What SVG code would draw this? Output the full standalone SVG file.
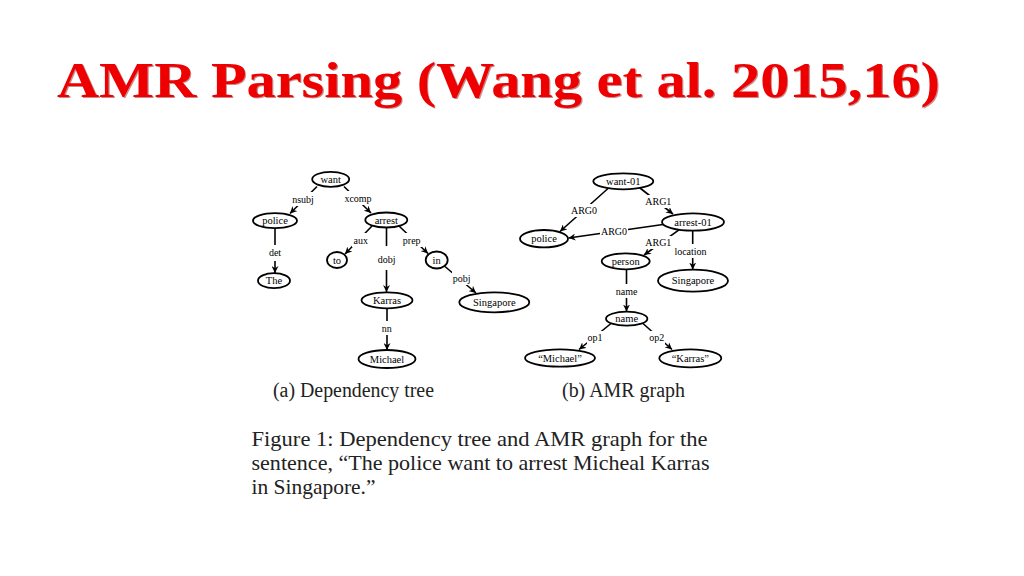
<svg xmlns="http://www.w3.org/2000/svg" width="1024" height="576" viewBox="0 0 1024 576">
<defs>
<style>
.node ellipse{fill:#fff;stroke:#000;stroke-width:1.8}
.node text{font-family:"Liberation Serif",serif;font-size:10.5px;text-anchor:middle;fill:#000}
.edge line{stroke:#000;stroke-width:1.6}
.edge .arr{marker-end:url(#ah)}
.lbl rect{fill:#fff}
.lbl text{font-family:"Liberation Serif",serif;font-size:10px;text-anchor:middle;fill:#000}
.cap{font-family:"Liberation Serif",serif;fill:#222}
.title{font-family:"Liberation Serif",serif;font-weight:bold;font-size:50px}
</style>
<marker id="ah" viewBox="0 0 8 8" refX="8" refY="4" markerWidth="7" markerHeight="7" markerUnits="userSpaceOnUse" orient="auto">
<path d="M0,0 L8,4 L0,8 L2.5,4 z" fill="#000"/>
</marker>
</defs>
<rect width="1024" height="576" fill="#fff"/>

<g id="title">
<text class="title" x="58.2" y="98.2" textLength="883" lengthAdjust="spacingAndGlyphs" fill="#8a0000" opacity="0.45">AMR Parsing (Wang et al. 2015,16)</text>
<text class="title" x="57" y="97" textLength="883" lengthAdjust="spacingAndGlyphs" fill="#ee0000">AMR Parsing (Wang et al. 2015,16)</text>
</g>

<g id="connectors" class="edge">
<!-- dependency tree -->
<line class="arr" x1="317" y1="186.5" x2="290" y2="213.5"/>
<line class="arr" x1="344" y1="186.5" x2="371" y2="213"/>
<line class="arr" x1="275" y1="228.5" x2="275" y2="273"/>
<line class="arr" x1="372" y1="226" x2="345" y2="254"/>
<line class="arr" x1="386.5" y1="227.5" x2="386.5" y2="292"/>
<line class="arr" x1="399" y1="226" x2="428" y2="253.5"/>
<line class="arr" x1="445" y1="266.5" x2="476" y2="293"/>
<line class="arr" x1="387" y1="308.5" x2="387" y2="350"/>
<!-- AMR graph -->
<line class="arr" x1="608" y1="188.5" x2="560" y2="231.5"/>
<line class="arr" x1="640" y1="188" x2="673" y2="214"/>
<line class="arr" x1="663" y1="224.5" x2="568.5" y2="238"/>
<line class="arr" x1="679" y1="229.8" x2="644" y2="255"/>
<line class="arr" x1="692.7" y1="230.7" x2="692.7" y2="269.5"/>
<line class="arr" x1="626.5" y1="269.3" x2="626.5" y2="311.5"/>
<line class="arr" x1="611" y1="323.5" x2="579" y2="349.5"/>
<line class="arr" x1="643" y1="323.5" x2="672" y2="349.5"/>

<g class="lbl">
<rect x="291" y="192" width="24" height="14"/><text x="303" y="202.5">nsubj</text>
<rect x="344" y="191" width="29" height="14"/><text x="358" y="201.5">xcomp</text>
<rect x="268" y="245" width="14" height="16"/><text x="275" y="256">det</text>
<rect x="352" y="233" width="17" height="14"/><text x="360.7" y="243.5">aux</text>
<rect x="377" y="246" width="20" height="24"/><text x="386.7" y="262.5">dobj</text>
<rect x="402" y="233" width="20" height="14"/><text x="411.7" y="243.5">prep</text>
<rect x="452" y="271" width="20" height="14"/><text x="461.7" y="281.5">pobj</text>
<rect x="380" y="321" width="14" height="14"/><text x="386.7" y="331.5">nn</text>

<rect x="570" y="204" width="28" height="13"/><text x="584" y="214.2">ARG0</text>
<rect x="644" y="195" width="28" height="13"/><text x="658.3" y="205.2">ARG1</text>
<rect x="600" y="225" width="28" height="13"/><text x="614" y="235.2">ARG0</text>
<rect x="644" y="236" width="28" height="13"/><text x="658.3" y="246.2">ARG1</text>
<rect x="673" y="244" width="36" height="14"/><text x="690.5" y="254.5">location</text>
<rect x="615" y="284" width="23" height="14"/><text x="626.7" y="294.5">name</text>
<rect x="587" y="331" width="17" height="13"/><text x="595" y="340.8">op1</text>
<rect x="648" y="331" width="17" height="13"/><text x="656.7" y="340.8">op2</text>
</g>
</g>

<g id="n-want" class="node"><ellipse cx="330.7" cy="179.3" rx="18.5" ry="7.5"/><text x="330.7" y="182.8">want</text></g>
<g id="n-police" class="node"><ellipse cx="275" cy="220.7" rx="22" ry="7.5"/><text x="275" y="224.2">police</text></g>
<g id="n-arrest" class="node"><ellipse cx="386.3" cy="220" rx="21" ry="7.5"/><text x="386.3" y="223.5">arrest</text></g>
<g id="n-the" class="node"><ellipse cx="274" cy="280.7" rx="16" ry="7.5"/><text x="274" y="284.2">The</text></g>
<g id="n-to" class="node"><ellipse cx="337" cy="260" rx="10" ry="8"/><text x="337" y="263.5">to</text></g>
<g id="n-in" class="node"><ellipse cx="436.7" cy="260" rx="11" ry="8.5"/><text x="436.7" y="263.5">in</text></g>
<g id="n-karras" class="node"><ellipse cx="387" cy="300.3" rx="25.5" ry="8"/><text x="387" y="303.8">Karras</text></g>
<g id="n-singapore" class="node"><ellipse cx="494.3" cy="302.3" rx="35" ry="10"/><text x="494.3" y="305.8">Singapore</text></g>
<g id="n-michael" class="node"><ellipse cx="387" cy="359" rx="28.5" ry="9"/><text x="387" y="362.5">Michael</text></g>

<g id="a-want01" class="node"><ellipse cx="623.3" cy="181.3" rx="30" ry="8"/><text x="623.3" y="184.8">want-01</text></g>
<g id="a-police" class="node"><ellipse cx="544" cy="238.7" rx="24" ry="8.7"/><text x="544" y="242.2">police</text></g>
<g id="a-arrest01" class="node"><ellipse cx="693" cy="222" rx="31" ry="8.7"/><text x="693" y="225.5">arrest-01</text></g>
<g id="a-person" class="node"><ellipse cx="625.7" cy="261.3" rx="24" ry="8"/><text x="625.7" y="264.8">person</text></g>
<g id="a-singapore" class="node"><ellipse cx="693" cy="280.7" rx="35" ry="11"/><text x="693" y="284.2">Singapore</text></g>
<g id="a-name" class="node"><ellipse cx="626.7" cy="318.7" rx="20.7" ry="7"/><text x="626.7" y="322.2">name</text></g>
<g id="a-michael" class="node"><ellipse cx="560" cy="358" rx="35" ry="8.7"/><text x="560" y="361.5">“Michael”</text></g>
<g id="a-karras" class="node"><ellipse cx="690.3" cy="358.3" rx="31" ry="9"/><text x="690.3" y="361.8">“Karras”</text></g>

<g id="captions">
<text class="cap" x="273" y="397" font-size="20" textLength="161" lengthAdjust="spacingAndGlyphs">(a) Dependency tree</text>
<text class="cap" x="562" y="397" font-size="20" textLength="123" lengthAdjust="spacingAndGlyphs">(b) AMR graph</text>
<text class="cap" x="251.5" y="446" font-size="21" textLength="456" lengthAdjust="spacingAndGlyphs">Figure 1:  Dependency tree and AMR graph for the</text>
<text class="cap" x="251.5" y="470" font-size="21" textLength="458" lengthAdjust="spacingAndGlyphs">sentence, “The police want to arrest Micheal Karras</text>
<text class="cap" x="251.5" y="494" font-size="21" textLength="124" lengthAdjust="spacingAndGlyphs">in Singapore.”</text>
</g>
</svg>
